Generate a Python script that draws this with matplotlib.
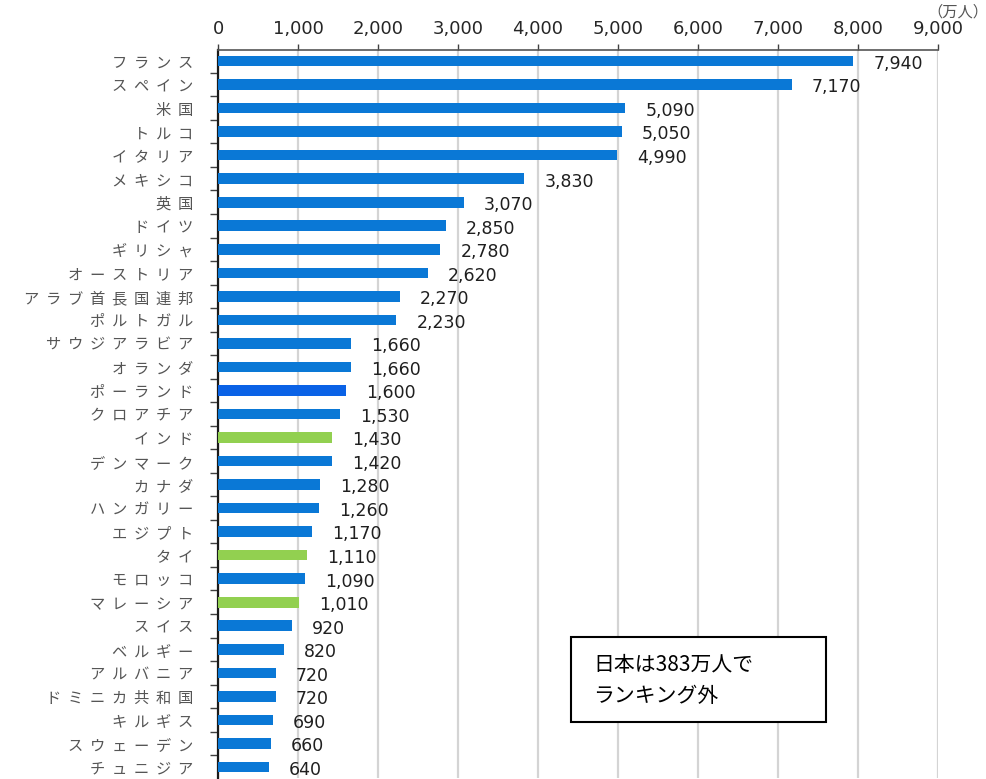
import matplotlib
matplotlib.use("Agg")
import matplotlib.pyplot as plt
from matplotlib.patches import Rectangle
from matplotlib.ticker import FixedLocator, FuncFormatter

# 国際観光客到着数ランキング（万人）
countries = ["フランス", "スペイン", "米国", "トルコ", "イタリア", "メキシコ", "英国",
             "ドイツ", "ギリシャ", "オーストリア", "アラブ首長国連邦", "ポルトガル",
             "サウジアラビア", "オランダ", "ポーランド", "クロアチア", "インド",
             "デンマーク", "カナダ", "ハンガリー", "エジプト", "タイ", "モロッコ",
             "マレーシア", "スイス", "ベルギー", "アルバニア", "ドミニカ共和国",
             "キルギス", "スウェーデン", "チュニジア"]
visitors = [7940, 7170, 5090, 5050, 4990, 3830, 3070, 2850, 2780, 2620, 2270, 2230,
            1660, 1660, 1600, 1530, 1430, 1420, 1280, 1260, 1170, 1110, 1090, 1010,
            920, 820, 720, 720, 690, 660, 640]
# アジアの国は緑、ポーランドはやや濃い青
asia = {"インド", "タイ", "マレーシア"}
x_ticks = list(range(0, 9001, 1000))

BLUE = "#0a78d6"
BLUE_DARK = "#0a62e6"
GREEN = "#92d050"

colors = []
for c in countries:
    if c in asia:
        colors.append(GREEN)
    elif c == "ポーランド":
        colors.append(BLUE_DARK)
    else:
        colors.append(BLUE)

JP = ["Noto Sans CJK JP", "DejaVu Sans"]

fig = plt.figure(figsize=(9.87, 7.79), dpi=100)
ax = fig.add_axes([0.2209, 0.0013, 0.7295, 0.9345])

ypos = list(range(len(countries)))
ax.barh(ypos, visitors, height=0.45, color=colors, zorder=3)

ax.set_xlim(0, 9000)
ax.set_ylim(len(countries) - 0.53, -0.47)

# 目盛りは上側
ax.xaxis.tick_top()
ax.xaxis.set_major_locator(FixedLocator(x_ticks))
ax.xaxis.set_major_formatter(FuncFormatter(lambda v, p: f"{int(v):,}"))
ax.tick_params(axis="x", which="major", direction="out", length=4, width=1,
               color="#404040", pad=5, labelsize=13, labelcolor="#262626")
ax.grid(axis="x", color="#d4d4d4", linewidth=1.6, zorder=0)

# カテゴリ名（字間を広げて表示）
ax.set_yticks(ypos)
ax.set_yticklabels(["  ".join(c) for c in countries], family=JP, fontsize=11,
                   color="#555555")
ax.tick_params(axis="y", which="major", length=0, pad=18)
ax.yaxis.set_minor_locator(FixedLocator([i + 0.5 for i in range(-1, len(countries))]))
ax.tick_params(axis="y", which="minor", length=6, width=1, color="#404040")

for s in ["right", "bottom"]:
    ax.spines[s].set_visible(False)
ax.spines["left"].set_color("#1a1a1a")
ax.spines["left"].set_linewidth(1.6)
ax.spines["top"].set_color("#555555")
ax.spines["top"].set_linewidth(1.2)

for y, v in zip(ypos, visitors):
    ax.text(v + 250, y + 0.12, f"{v:,}", va="center", ha="left", fontsize=12.5,
            color="#1f1f1f", zorder=4)

fig.text(0.970, 0.985, "（万人）", family=JP, fontsize=11, color="#555555",
         ha="center", va="center")

# 注記ボックス
ax.add_patch(Rectangle((0.490, 0.077), 0.354, 0.117, transform=ax.transAxes,
                       facecolor="white", edgecolor="black", linewidth=1.5,
                       zorder=5))
ax.text(0.521, 0.155, "日本は383万人で", transform=ax.transAxes, family=JP,
        fontsize=15, va="center", ha="left", zorder=6)
ax.text(0.521, 0.113, "ランキング外", transform=ax.transAxes, family=JP,
        fontsize=15, va="center", ha="left", zorder=6)

fig.savefig("out.png", dpi=100)
